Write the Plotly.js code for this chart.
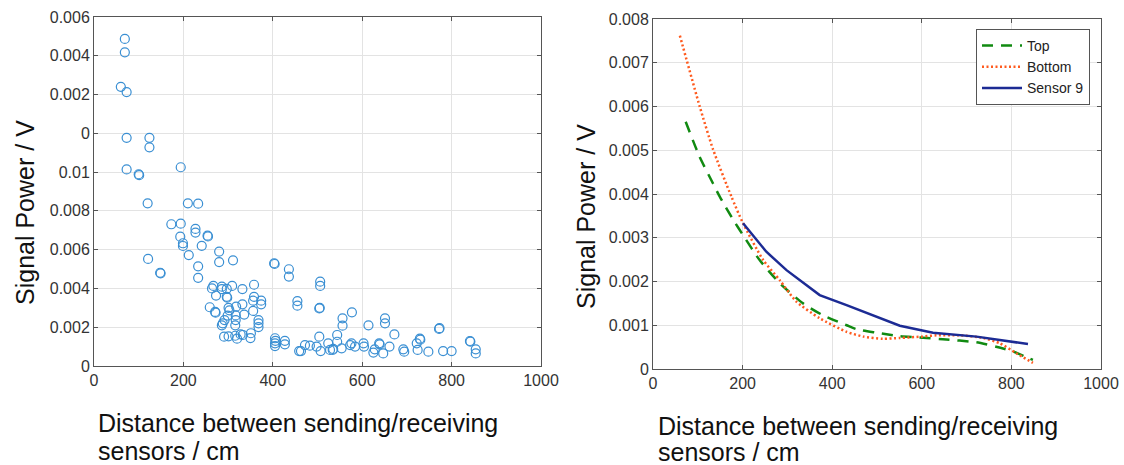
<!DOCTYPE html>
<html>
<head>
<meta charset="utf-8">
<script src="https://cdn.plot.ly/plotly-3.0.1.min.js"></script>
<style>html,body{margin:0;padding:0;background:#fff;}#chart{width:1124px;height:465px;}</style>
</head>
<body>
<div id="chart"></div>
<script>
// Left: scatter of signal power (axis position values, in V) vs distance (cm)
const scatterX = [69,69,60,73,73,124,124,73,100,101,194,120,210,233,173,194,227,227,254,255,193,199,199,241,212,280,280,311,121,233,233,148,149,267,264,286,273,286,297,309,332,297,298,358,358,356,374,374,259,271,272,301,303,318,332,336,317,317,299,356,368,368,368,286,288,292,316,291,301,316,320,328,333,350,351,403,404,436,436,405,405,405,406,427,427,455,455,459,506,506,504,505,556,556,577,614,651,651,672,772,773,729,730,722,724,841,842,854,854,781,800,748,692,694,661,647,638,639,628,625,604,603,584,576,573,554,544,544,534,535,524,528,504,498,507,483,472,463];
const scatterY = [16.87,16.18,14.40,14.13,11.77,11.77,11.28,10.14,9.89,9.84,10.25,8.39,8.39,8.37,7.31,7.34,7.07,6.88,6.72,6.68,6.67,6.33,6.19,6.20,5.72,5.90,5.36,5.45,5.52,5.14,4.55,4.81,4.78,4.13,4.00,4.09,3.63,3.96,3.98,4.13,3.97,3.57,3.52,4.19,3.57,3.37,3.37,3.18,3.03,2.79,2.75,3.00,2.87,3.06,3.18,2.65,2.61,2.37,2.60,2.84,2.37,2.20,2.01,2.10,2.20,2.37,2.10,1.51,1.53,1.56,1.41,1.63,1.60,1.44,1.69,5.30,5.26,4.99,4.61,1.43,1.17,1.03,1.30,1.30,1.12,3.35,3.11,0.77,4.35,4.13,2.97,3.00,2.46,2.08,2.77,2.10,2.46,2.20,1.63,1.91,1.95,1.41,1.36,1.17,0.83,1.29,1.26,0.86,0.65,0.77,0.77,0.74,0.86,0.74,1.00,0.65,1.17,1.12,0.86,0.69,1.00,1.17,1.00,1.17,1.08,0.91,1.60,1.25,0.83,0.88,1.17,0.83,1.51,1.00,0.77,1.05,1.08,0.77].map(v => v * 0.001);
const leftTickVals = [0,0.002,0.004,0.006,0.008,0.010,0.012,0.014,0.016,0.018];
const leftTickText = ['0','0.002','0.004','0.006','0.008','0.01','0','0.002','0.004','0.006'];
const xTickVals = [0,200,400,600,800,1000];
const rightTickVals = [0,0.001,0.002,0.003,0.004,0.005,0.006,0.007,0.008];
const rightTickText = ['0','0.001','0.002','0.003','0.004','0.005','0.006','0.007','0.008'];

// Right: fitted curves
const topX = [73,104,134,149,179,201,238,283,335,379,432,454,499,551,592,647,722,766,804,841,848];
const topY = [5.65,4.85,4.24,3.94,3.41,3.06,2.49,1.96,1.50,1.23,1.00,0.91,0.83,0.75,0.72,0.68,0.61,0.51,0.40,0.24,0.21].map(v => v * 0.001);
const bottomX = [60,104,134,175,201,246,283,320,372,432,470,513,551,599,633,685,737,774,811,848];
const bottomY = [7.62,6.01,5.02,3.94,3.33,2.49,2.03,1.54,1.16,0.85,0.74,0.69,0.71,0.74,0.77,0.77,0.71,0.59,0.36,0.14].map(v => v * 0.001);
const sensorX = [201,253,298,372,432,506,551,625,722,837];
const sensorY = [3.33,2.68,2.26,1.69,1.46,1.16,0.99,0.83,0.74,0.57].map(v => v * 0.001);

const FONT = 'Arial, "Liberation Sans", sans-serif';
const W = 1124, H = 465;
const px = v => v / W;
const py = v => (H - v) / H;

const axisCommon = {
  showline: true, linecolor: '#555', linewidth: 1, mirror: 'ticks',
  ticks: 'inside', ticklen: 4, tickcolor: '#555', tickwidth: 1,
  showgrid: true, gridcolor: '#e3e3e3', gridwidth: 1, zeroline: false,
  tickfont: {family: FONT, size: 16, color: '#333'}, automargin: false,
  fixedrange: true
};

const traces = [
  {x: scatterX, y: scatterY, type: 'scatter', mode: 'markers', xaxis: 'x', yaxis: 'y',
   marker: {symbol: 'circle-open', size: 9, color: '#3a8fd3', line: {width: 1.2, color: '#3a8fd3'}},
   showlegend: false},
  {x: topX, y: topY, type: 'scatter', mode: 'lines', name: 'Top', xaxis: 'x2', yaxis: 'y2',
   line: {color: '#118a11', width: 2.5, dash: '11px,8px', shape: 'spline', smoothing: 0.6}},
  {x: bottomX, y: bottomY, type: 'scatter', mode: 'lines', name: 'Bottom', xaxis: 'x2', yaxis: 'y2',
   line: {color: '#ff5a1e', width: 2.5, dash: '2px,2.5px', shape: 'spline', smoothing: 0.6}},
  {x: sensorX, y: sensorY, type: 'scatter', mode: 'lines', name: 'Sensor 9', xaxis: 'x2', yaxis: 'y2',
   line: {color: '#1c2b94', width: 2.5}}
];

const titleFont = {family: FONT, size: 25, color: '#111'};
const layout = {
  width: W, height: H,
  margin: {l: 0, r: 0, t: 0, b: 0},
  paper_bgcolor: '#fff', plot_bgcolor: '#fff',
  font: {family: FONT, color: '#222'},
  showlegend: true,
  legend: {x: px(976), y: py(29), xanchor: 'left', yanchor: 'top',
           bgcolor: '#fff', bordercolor: '#555', borderwidth: 1,
           font: {family: FONT, size: 14, color: '#222'}, tracegroupgap: 0, itemwidth: 40},
  xaxis: Object.assign({}, axisCommon, {domain: [px(94), px(541)], range: [0, 1000], tickvals: xTickVals, anchor: 'y'}),
  yaxis: Object.assign({}, axisCommon, {domain: [py(366), py(17)], range: [0, 0.018], tickvals: leftTickVals, ticktext: leftTickText, anchor: 'x'}),
  xaxis2: Object.assign({}, axisCommon, {domain: [px(653), px(1101)], range: [0, 1000], tickvals: xTickVals, anchor: 'y2'}),
  yaxis2: Object.assign({}, axisCommon, {domain: [py(369), py(19)], range: [0, 0.008], tickvals: rightTickVals, ticktext: rightTickText, anchor: 'x2'}),
  annotations: [
    {text: 'Distance between sending/receiving', xref: 'paper', yref: 'paper',
     x: px(96), y: py(423), xanchor: 'left', yanchor: 'middle', showarrow: false, font: titleFont},
    {text: 'sensors / cm', xref: 'paper', yref: 'paper',
     x: px(96), y: py(451), xanchor: 'left', yanchor: 'middle', showarrow: false, font: titleFont},
    {text: 'Distance between sending/receiving', xref: 'paper', yref: 'paper',
     x: px(656), y: py(426), xanchor: 'left', yanchor: 'middle', showarrow: false, font: titleFont},
    {text: 'sensors / cm', xref: 'paper', yref: 'paper',
     x: px(656), y: py(452), xanchor: 'left', yanchor: 'middle', showarrow: false, font: titleFont},
    {text: 'Signal Power / V', xref: 'paper', yref: 'paper', x: px(25), y: py(213),
     xanchor: 'center', yanchor: 'middle', textangle: -90, showarrow: false, font: titleFont},
    {text: 'Signal Power / V', xref: 'paper', yref: 'paper', x: px(586), y: py(217),
     xanchor: 'center', yanchor: 'middle', textangle: -90, showarrow: false, font: titleFont}
  ]
};

Plotly.newPlot('chart', traces, layout, {staticPlot: true, displayModeBar: false});
</script>
</body>
</html>
